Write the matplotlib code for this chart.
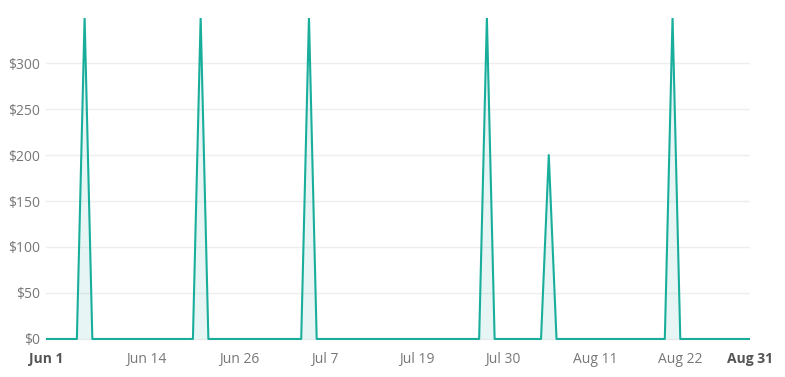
import matplotlib
matplotlib.use("Agg")
import matplotlib.pyplot as plt
import numpy as np

n_days = 92  # Jun 1 .. Aug 31
spike_days = [5, 20, 34, 57, 65, 81]
spike_values = [350, 350, 350, 350, 200, 350]
tick_days = [0, 13, 25, 36, 48, 59, 71, 82, 91]
tick_labels = ["Jun 1", "Jun 14", "Jun 26", "Jul 7", "Jul 19", "Jul 30", "Aug 11", "Aug 22", "Aug 31"]
y_ticks = [0, 50, 100, 150, 200, 250, 300]

values = np.zeros(n_days)
for d, v in zip(spike_days, spike_values):
    values[d] = v
days = np.arange(n_days)

plt.rcParams['font.family'] = ['Open Sans', 'DejaVu Sans']
fig = plt.figure(figsize=(7.85, 3.77), dpi=100)
ax = fig.add_axes([0.0585, 0.096, 0.8968, 0.8563])

color = "#19ae9c"
ax.fill_between(days, values, 0, color=color, alpha=0.1, linewidth=0)
ax.plot(days, values, color=color, linewidth=1.5)

ax.set_xlim(0, 91)
ax.set_ylim(-2, 349)
ax.set_yticks(y_ticks)
ax.set_yticklabels([f"${v}" for v in y_ticks])
ax.set_xticks(tick_days)
ax.set_xticklabels(tick_labels)
ax.tick_params(axis="both", length=0, labelsize=10, colors="#777777")
ax.tick_params(axis="x", pad=8)
ax.tick_params(axis="y", pad=4)
labs = ax.get_xticklabels()
for i, lab in enumerate(labs):
    if i in (0, len(labs) - 1):
        lab.set_fontweight("bold")
        lab.set_color("#555555")

ax.grid(axis="y", color="#eeeeee", linewidth=1)
ax.set_axisbelow(True)
for s in ax.spines.values():
    s.set_visible(False)

fig.savefig("out.png", dpi=100)
